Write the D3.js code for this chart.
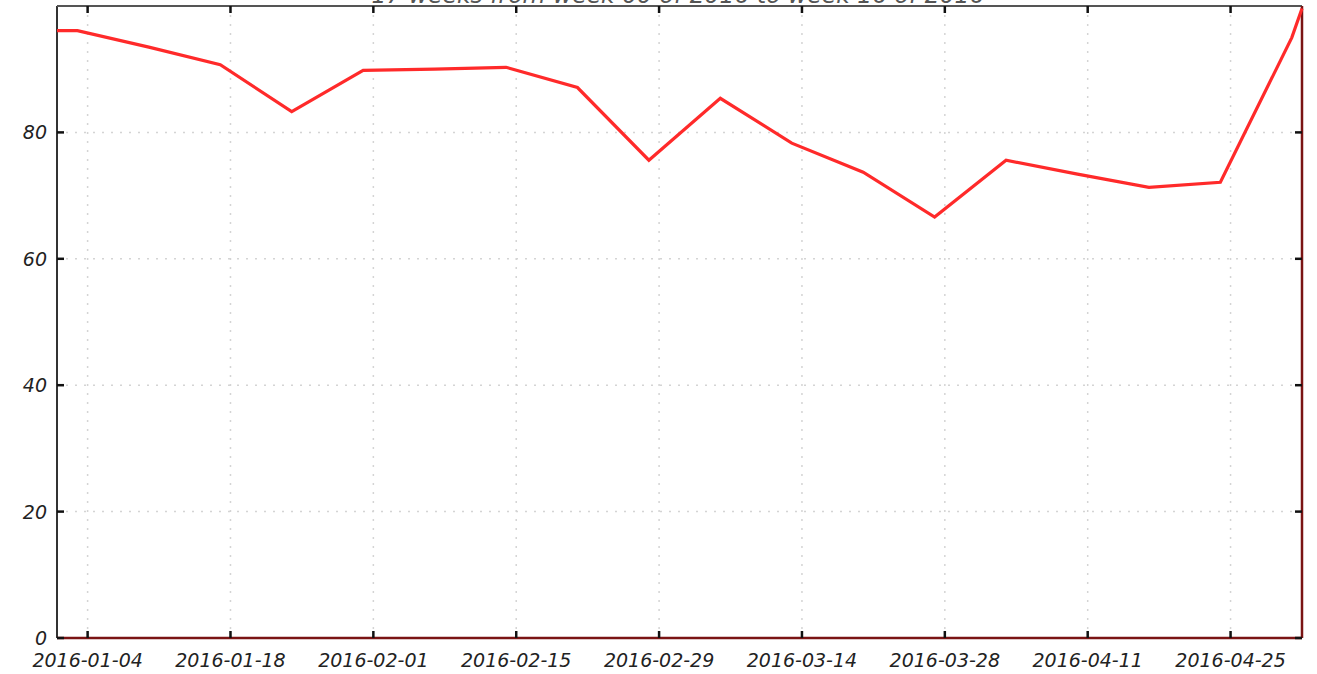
<!DOCTYPE html>
<html>
<head>
<meta charset="utf-8">
<script src="https://cdn.jsdelivr.net/npm/d3@7"></script>
<style>
  body { margin: 0; background: #fff; }
  text { font-family: "DejaVu Sans", sans-serif; font-style: italic; }
</style>
</head>
<body>
<div id="vis"></div>
<script>
// weekly values
let dates = ['2016-01-01', '2016-01-03', '2016-01-10', '2016-01-17', '2016-01-24',
  '2016-01-31', '2016-02-07', '2016-02-14', '2016-02-21', '2016-02-28',
  '2016-03-06', '2016-03-13', '2016-03-20', '2016-03-27', '2016-04-03',
  '2016-04-10', '2016-04-17', '2016-04-24', '2016-05-01', '2016-05-02'];
let values = [96.1, 96.1, 93.5, 90.7, 83.3, 89.8, 90.0, 90.3, 87.1, 75.6,
  85.4, 78.3, 73.7, 66.6, 75.6, 73.4, 71.3, 72.1, 95.0, 99.6];
let xTicks = ['2016-01-04', '2016-01-18', '2016-02-01', '2016-02-15', '2016-02-29',
  '2016-03-14', '2016-03-28', '2016-04-11', '2016-04-25'];
let yTicks = [0, 20, 40, 60, 80];
let title = '17 weeks from week 00 of 2016 to week 16 of 2016';

let margin = { top: 6, left: 57, right: 15, bottom: 36 },
  W = 1317, H = 674,
  width = W - margin.left - margin.right,
  height = H - margin.top - margin.bottom;

let parse = d3.utcParse('%Y-%m-%d');
let data = dates.map((d, i) => ({ date: parse(d), value: values[i] }));

let svg = d3.select('#vis').append('svg')
  .attr('width', W)
  .attr('height', H);

let g = svg.append('g').attr('transform', `translate(${margin.left},${margin.top})`);

let x = d3.scaleUtc()
  .domain([parse('2016-01-01'), parse('2016-05-02')])
  .range([0, width]);
let y = d3.scaleLinear().domain([0, 100]).range([height, 0]);

// title, mostly cut off at the top (as in the original)
svg.append('text')
  .attr('x', 678)
  .attr('y', 3)
  .attr('text-anchor', 'middle')
  .attr('font-size', 23.5)
  .attr('fill', '#555')
  .text(title);

// dotted grid
g.selectAll('.vgrid').data(xTicks).enter().append('line')
  .attr('x1', d => x(parse(d))).attr('x2', d => x(parse(d)))
  .attr('y1', 0).attr('y2', height)
  .attr('stroke', '#d4d4d4').attr('stroke-width', 1.5)
  .attr('stroke-dasharray', '2,7');
g.selectAll('.hgrid').data(yTicks.filter(d => d > 0)).enter().append('line')
  .attr('x1', 0).attr('x2', width)
  .attr('y1', d => y(d)).attr('y2', d => y(d))
  .attr('stroke', '#d4d4d4').attr('stroke-width', 1.5)
  .attr('stroke-dasharray', '2,7');

// frame: left and top dark, bottom and right dark red
g.append('line').attr('x1', 0).attr('x2', 0).attr('y1', 0).attr('y2', height)
  .attr('stroke', '#333').attr('stroke-width', 2);
g.append('line').attr('x1', 0).attr('x2', width).attr('y1', 0).attr('y2', 0)
  .attr('stroke', '#555').attr('stroke-width', 2);
g.append('line').attr('x1', 0).attr('x2', width).attr('y1', height).attr('y2', height)
  .attr('stroke', '#7a1414').attr('stroke-width', 2.5);
g.append('line').attr('x1', width).attr('x2', width).attr('y1', 0).attr('y2', height)
  .attr('stroke', '#7a1414').attr('stroke-width', 2.5);

// inward ticks on all four sides
let tickLen = 7;
xTicks.forEach(d => {
  let px = x(parse(d));
  g.append('line').attr('x1', px).attr('x2', px).attr('y1', height).attr('y2', height - tickLen)
    .attr('stroke', '#111').attr('stroke-width', 2.5);
  g.append('line').attr('x1', px).attr('x2', px).attr('y1', 0).attr('y2', tickLen)
    .attr('stroke', '#111').attr('stroke-width', 2.5);
});
yTicks.forEach(d => {
  let py = y(d);
  g.append('line').attr('x1', 0).attr('x2', tickLen).attr('y1', py).attr('y2', py)
    .attr('stroke', '#111').attr('stroke-width', 2.5);
  g.append('line').attr('x1', width).attr('x2', width - tickLen).attr('y1', py).attr('y2', py)
    .attr('stroke', '#111').attr('stroke-width', 2.5);
});

// tick labels
g.selectAll('.xlab').data(xTicks).enter().append('text')
  .attr('x', d => x(parse(d)))
  .attr('y', height + 29)
  .attr('text-anchor', 'middle')
  .attr('font-size', 19)
  .attr('fill', '#222')
  .text(d => d);
g.selectAll('.ylab').data(yTicks).enter().append('text')
  .attr('x', -10)
  .attr('y', d => y(d) + 7)
  .attr('text-anchor', 'end')
  .attr('font-size', 19)
  .attr('fill', '#222')
  .text(d => d);

// series
let line = d3.line().x(d => x(d.date)).y(d => y(d.value));
g.append('path')
  .datum(data)
  .attr('d', line)
  .attr('fill', 'none')
  .attr('stroke', '#ff2a2a')
  .attr('stroke-width', 3.2)
  .attr('stroke-linejoin', 'miter');
</script>
</body>
</html>
